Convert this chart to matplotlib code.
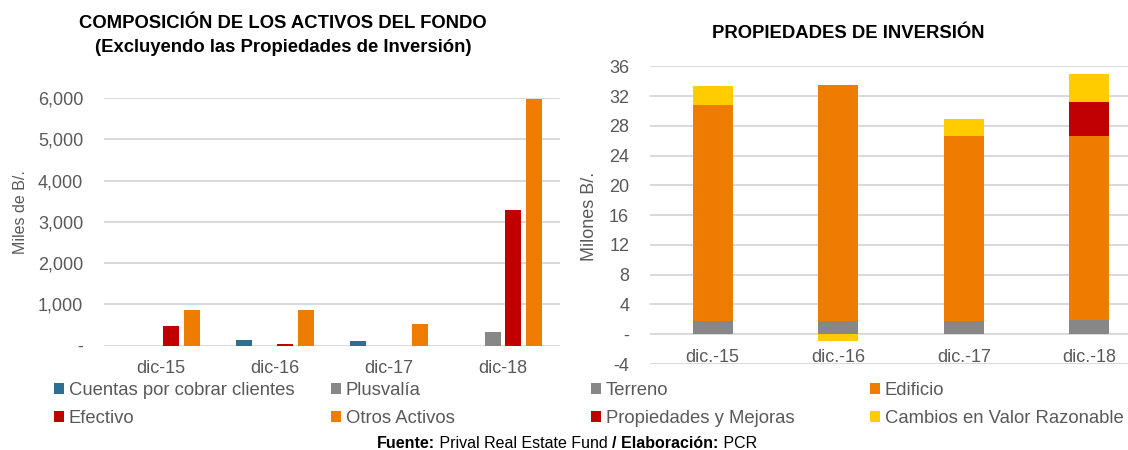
import numpy as np
import matplotlib
matplotlib.use("Agg")
import matplotlib.pyplot as plt
from matplotlib.ticker import FuncFormatter

plt.rcParams['font.family'] = ['Liberation Sans', 'DejaVu Sans']

# ---- data ----
cats_left = ["dic-15", "dic-16", "dic-17", "dic-18"]
cuentas = [0, 140, 125, 0]
plusvalia = [0, 0, 0, 320]
efectivo = [470, 45, 0, 3285]
otros = [870, 870, 525, 5970]

cats_right = ["dic.-15", "dic.-16", "dic.-17", "dic.-18"]
terreno = [1.8, 1.8, 1.8, 1.9]
edificio = [29.0, 31.7, 24.85, 24.75]
propiedades = [0, 0, 0, 4.6]
cambios = [2.6, -0.9, 2.3, 3.7]

BLUE = "#2E6E8E"
GRAY = "#878787"
RED = "#C00000"
ORANGE = "#EE7C00"
YELLOW = "#FFCC00"
TXT = "#595959"
GRID = "#D9D9D9"

fig = plt.figure(figsize=(11.28, 4.5), dpi=100)


def style_axes(ax):
    for s in ax.spines.values():
        s.set_visible(False)
    ax.grid(axis='y', color=GRID, linewidth=1.4)
    ax.set_axisbelow(True)
    ax.tick_params(length=0, labelsize=13, labelcolor=TXT)


# ---- left chart ----
axl = fig.add_axes([104 / 1128, 1 - 346 / 450, 456 / 1128, 248.3 / 450])
style_axes(axl)
x = np.arange(len(cats_left))
pitch, w = 0.182, 0.14
series_left = [("Cuentas por cobrar clientes", cuentas, BLUE),
               ("Plusvalía", plusvalia, GRAY),
               ("Efectivo", efectivo, RED),
               ("Otros Activos", otros, ORANGE)]
hl = {}
for i, (name, vals, col) in enumerate(series_left):
    hl[name] = axl.bar(x + (i - 1.5) * pitch, vals, w, color=col, label=name)
axl.set_xlim(-0.5, 3.5)
axl.set_ylim(-8, 6008)
axl.set_yticks(np.arange(0, 6001, 1000))
axl.yaxis.set_major_formatter(FuncFormatter(lambda v, p: "-" if v == 0 else f"{v:,.0f}"))
axl.set_xticks(x, cats_left)
axl.tick_params(axis='y', pad=15)
axl.tick_params(axis='x', pad=10)

# ---- right chart ----
axr = fig.add_axes([650 / 1128, 1 - 364.3 / 450, 502 / 1128, 298.3 / 450])
style_axes(axr)
xr = np.arange(len(cats_right))
wr = 0.32
terreno_a = np.array(terreno)
edif_a = np.array(edificio)
prop_a = np.array(propiedades)
camb_a = np.array(cambios)
hr = {}
hr["Terreno"] = axr.bar(xr, terreno_a, wr, color=GRAY)
hr["Edificio"] = axr.bar(xr, edif_a, wr, bottom=terreno_a, color=ORANGE)
hr["Propiedades y Mejoras"] = axr.bar(xr, prop_a, wr, bottom=terreno_a + edif_a, color=RED)
camb_bottom = np.where(camb_a >= 0, terreno_a + edif_a + prop_a, 0)
hr["Cambios en Valor Razonable"] = axr.bar(xr, camb_a, wr, bottom=camb_bottom, color=YELLOW)
axr.set_xlim(-0.5, 3.5)
axr.set_ylim(-4.04, 36.04)
axr.set_yticks(np.arange(-4, 37, 4))
axr.yaxis.set_major_formatter(FuncFormatter(lambda v, p: "-" if v == 0 else f"{v:.0f}"))
axr.set_xticks(xr, cats_right)
axr.spines['bottom'].set_position(('data', 0))
axr.tick_params(axis='y', pad=15)
axr.tick_params(axis='x', pad=10.5)

# ---- titles and axis labels ----
fig.text(283 / 1128, 1 - 23 / 450, "COMPOSICIÓN DE LOS ACTIVOS DEL FONDO",
         ha='center', va='center', fontsize=13.3, fontweight='bold')
fig.text(283 / 1128, 1 - 47 / 450, "(Excluyendo las Propiedades de Inversión)",
         ha='center', va='center', fontsize=13.3, fontweight='bold')
fig.text(848 / 1128, 1 - 33 / 450, "PROPIEDADES DE INVERSIÓN",
         ha='center', va='center', fontsize=13.3, fontweight='bold')
fig.text(21 / 1128, 1 - 212 / 450, "Miles de B/.", rotation=90,
         ha='center', va='center', fontsize=11.5, color=TXT)
fig.text(590 / 1128, 1 - 216 / 450, "Milones B/.", rotation=90,
         ha='center', va='center', fontsize=13, color=TXT)

# ---- legends: four columns of two entries ----
columns = [
    (54, [("Cuentas por cobrar clientes", hl), ("Efectivo", hl)]),
    (331, [("Plusvalía", hl), ("Otros Activos", hl)]),
    (591, [("Terreno", hr), ("Propiedades y Mejoras", hr)]),
    (870, [("Edificio", hr), ("Cambios en Valor Razonable", hr)]),
]
for xpix, entries in columns:
    leg = fig.legend([src[n] for n, src in entries], [n for n, _ in entries],
                     loc='upper left', bbox_to_anchor=(xpix / 1128, 1 - 382 / 450),
                     frameon=False, fontsize=13.3, labelcolor=TXT,
                     handlelength=0.55, handleheight=0.55, handletextpad=0.25,
                     labelspacing=0.62, borderpad=0, borderaxespad=0)

# ---- source line ----
parts = [("Fuente:", 'bold'), (" Prival Real Estate Fund ", 'normal'),
         ("/ Elaboración:", 'bold'), (" PCR", 'normal')]
prev = fig.text(377 / 1128, 1 - 443 / 450, parts[0][0], fontsize=11.5,
                fontweight=parts[0][1], ha='left', va='center')
for txt, wt in parts[1:]:
    prev = axl.annotate(txt, xy=(1, 0), xycoords=prev, ha='left', va='bottom',
                        fontsize=11.5, fontweight=wt, annotation_clip=False)

fig.savefig("out.png", dpi=100)
